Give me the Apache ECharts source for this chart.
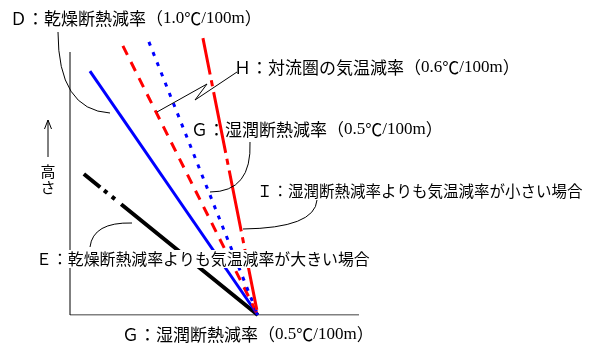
<!DOCTYPE html>
<html>
<head>
<meta charset="utf-8">
<script src="https://cdn.jsdelivr.net/npm/echarts@6/dist/echarts.min.js"></script>
<style>
  html, body { margin: 0; padding: 0; background: #fff; }
  #main { width: 595px; height: 354px; }
</style>
</head>
<body>
<div id="main"></div>
<script>
// 気温減率の図（高さ vs 気温）
// 座標は x: 0..10, y: 0..10 の抽象単位
var meetPoint = [6.5, 0];            // 全ての線が集まる点
var dryTop = [0.69, 8.44];           // D 乾燥断熱減率（青・実線）
var envTop = [1.83, 9.31];           // H 対流圏の気温減率（赤・破線）
var moistTop = [2.73, 9.45];         // G 湿潤断熱減率（青・点線）
var stableTop = [4.60, 9.58];        // I 湿潤より小さい（赤・一点鎖線）
var unstableTop = [0.48, 4.88];      // E 乾燥より大きい（黒）
var axisPts = [[0, 9.1], [0, 0], [10, 0]];

var labelD = 'Ｄ：乾燥断熱減率（1.0℃/100m）';
var labelH = 'Ｈ：対流圏の気温減率（0.6℃/100m）';
var labelG = 'Ｇ：湿潤断熱減率（0.5℃/100m）';
var labelI = 'Ｉ：湿潤断熱減率よりも気温減率が小さい場合';
var labelE = 'Ｅ：乾燥断熱減率よりも気温減率が大きい場合';
var labelHeight = '高\nさ';

var CJK = "'Noto Sans CJK JP', sans-serif";
var SERIF = "'Liberation Serif', serif";

function seg(top) {
  return [top, meetPoint];
}

function lineSeries(data, color, width, type, offset) {
  return {
    type: 'line',
    data: data,
    symbol: 'none',
    silent: true,
    lineStyle: { color: color, width: width, type: type, dashOffset: offset || 0 }
  };
}

// 半角の部分だけ明朝っぽいフォントにする
function richText(s) {
  return s.replace(/([\x20-\x7e]+)/g, '{s|$1}');
}

function txt(x, y, s, size, extra) {
  var style = {
    text: richText(s), x: x, y: y, fill: '#000', fontSize: size, fontFamily: CJK,
    verticalAlign: 'middle',
    rich: { s: { fontFamily: SERIF, fontSize: size, fill: '#000' } }
  };
  for (var k in extra) style[k] = extra[k];
  return { type: 'text', z: 100, style: style };
}

function curve(x1, y1, cx, cy, x2, y2) {
  return {
    type: 'bezierCurve', z: 50, silent: true,
    shape: { x1: x1, y1: y1, cpx1: cx, cpy1: cy, x2: x2, y2: y2 },
    style: { stroke: '#000', lineWidth: 1, fill: null }
  };
}

var chart = echarts.init(document.getElementById('main'));
var option = {
  animation: false,
  backgroundColor: '#fff',
  grid: { left: 70, bottom: 39, width: 289, height: 289 },
  xAxis: { type: 'value', min: 0, max: 10, show: false },
  yAxis: { type: 'value', min: 0, max: 10, show: false },
  series: [
    lineSeries(axisPts, '#000', 1, 'solid'),
    lineSeries(seg(unstableTop), '#000', 4, [21, 5, 4, 6, 4, 8, 400]),
    lineSeries(seg(dryTop), '#0000ff', 3, 'solid'),
    lineSeries(seg(envTop), '#ff0000', 3, [10, 8]),
    lineSeries(seg(moistTop), '#0000ff', 3, [4, 7]),
    lineSeries(seg(stableTop), '#ff0000', 3, [62, 6, 6, 6], 25)
  ],
  graphic: [
    txt(10, 19, labelD, 17),
    txt(234, 68, labelH, 17),
    txt(191, 130, labelG, 17),
    txt(257, 191, labelI, 15.5),
    txt(36, 259, labelE, 15.9, { backgroundColor: '#fff', padding: [1, 0, 1, 0] }),
    txt(122, 335, labelG, 17),
    txt(48, 179, labelHeight, 15, { align: 'center', lineHeight: 16 }),
    // 引き出し線
    curve(58, 32, 58, 110, 110, 113),
    curve(250, 142, 252, 192, 210, 192),
    curve(317, 200, 315, 228, 243, 229),
    curve(132, 223, 93, 222, 90, 247),
    {
      type: 'polyline', z: 50, silent: true,
      shape: { points: [[157, 112], [207, 84], [195, 100], [237, 72]] },
      style: { stroke: '#000', lineWidth: 1, fill: null }
    },
    // 高さの矢印
    {
      type: 'polyline', z: 50, silent: true,
      shape: { points: [[48, 157], [48, 120]] },
      style: { stroke: '#000', lineWidth: 1, fill: null }
    },
    {
      type: 'polyline', z: 50, silent: true,
      shape: { points: [[44.5, 129], [48, 120], [51.5, 129]] },
      style: { stroke: '#000', lineWidth: 1, fill: null }
    }
  ]
};
chart.setOption(option);
</script>
</body>
</html>
